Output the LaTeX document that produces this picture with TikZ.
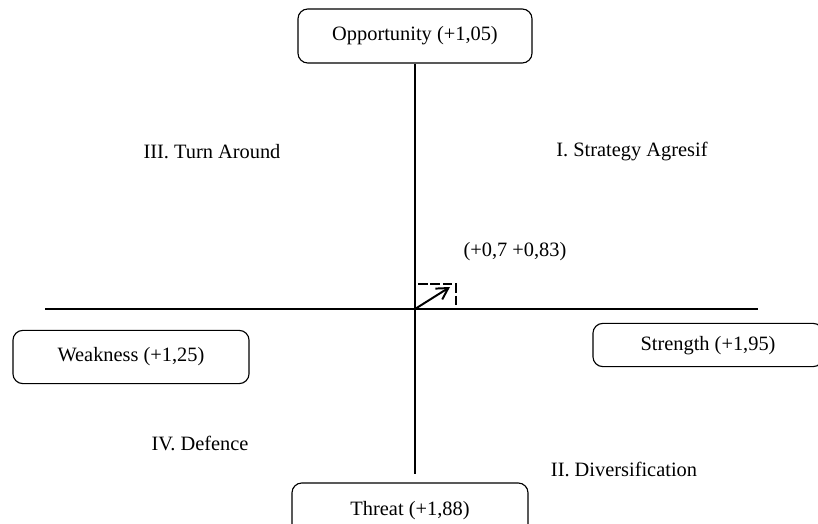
\documentclass[tikz,border=0pt]{standalone}
\usepackage{fontspec}
\setmainfont{Liberation Serif}
\usetikzlibrary{arrows.meta,positioning}
\tikzset{
  swot/.style={draw,rounded corners=7pt,line width=0.8pt,inner sep=0pt},
  quad/.style={inner sep=0pt}
}

\begin{document}
\begin{tikzpicture}[x=0.025cm,y=-0.025cm,font=\fontsize{14.5}{17}\selectfont,line width=0.9pt,every node/.style={align=center}]
  \clip (0,0) rectangle (818,524);
  % factor boxes
  \node[swot,minimum width=5.85cm,minimum height=1.35cm] (opp) at (415,36) {Opportunity (+1,05)};
  \node[swot,minimum width=5.9cm,minimum height=1.33cm] (weak) at (131,357) {Weakness (+1,25)};
  \node[swot,minimum width=5.75cm,minimum height=1.08cm,text depth=0.6ex,yshift=-0.05cm] (str) at (708,343) {Strength (+1,95)};
  \node[swot,minimum width=5.9cm,minimum height=1.4cm] (thr) at (410,511) {Threat (+1,88)};
  % axes
  \coordinate (o) at (415,309);
  \coordinate (ybot) at (415,474);
  \coordinate (xl) at (45,309);
  \coordinate (xr) at (758,309);
  \draw (opp.south)--(ybot);
  \draw (xl)--(xr);
  % quadrants
  \node[quad] (q3) at (212,152) {III. Turn Around};
  \node[quad] (q1) at (632,152) {I. Strategy Agresif};
  \node[quad] (q4) at (200,443) {IV. Defence};
  \node[quad] (q2) at (624,469) {II. Diversification};
  % position
  \node[quad] (pos) at (515,252) {(+0,7 +0,83)};
  \coordinate (tip) at (450,287);
  \coordinate (dl) at (418,284);
  \coordinate (dc) at (456,284);
  \coordinate (db) at (456,309);
  \draw[dash pattern=on 2.4mm off 0.7mm] (dl)--(dc)--(db);
  \draw[-{Straight Barb[length=2.8mm,width=3.2mm]},line width=1.4pt] (o)--(tip);
\end{tikzpicture}
\end{document}
